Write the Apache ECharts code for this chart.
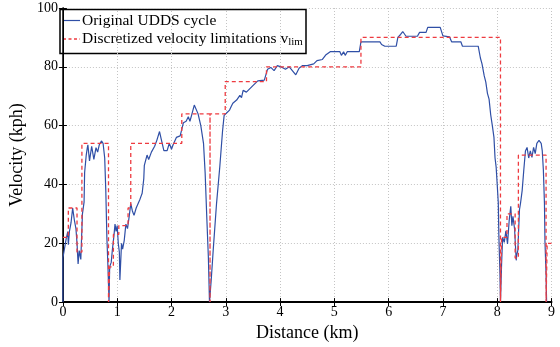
<!DOCTYPE html>
<html>
<head>
<meta charset="utf-8">
<script src="https://cdn.jsdelivr.net/npm/echarts@6/dist/echarts.min.js"></script>
<style>
  html, body { margin: 0; padding: 0; background: #fff; }
  #chart { width: 560px; height: 347px; }
</style>
</head>
<body>
<div id="chart"></div>
<script>
// UDDS cycle, speed against travelled distance
const uddsDist = [0, 0.0, 0.02, 0.06, 0.09, 0.1, 0.12, 0.15, 0.18, 0.21, 0.24, 0.26, 0.28, 0.3, 0.33, 0.36, 0.39, 0.4, 0.43, 0.45,
  0.46, 0.49, 0.53, 0.57, 0.61, 0.64, 0.67, 0.71, 0.74, 0.77, 0.79, 0.81, 0.83, 0.85, 0.86, 0.87, 0.89, 0.91, 0.94, 0.96,
  0.98, 1.0, 1.02, 1.04, 1.05, 1.08, 1.1, 1.13, 1.16, 1.19, 1.22, 1.25, 1.28, 1.31, 1.35, 1.38, 1.42, 1.46, 1.49, 1.5,
  1.55, 1.58, 1.63, 1.66, 1.69, 1.73, 1.78, 1.81, 1.86, 1.92, 1.96, 2.0, 2.03, 2.09, 2.16, 2.19, 2.22, 2.27, 2.31, 2.34,
  2.37, 2.42, 2.45, 2.49, 2.54, 2.59, 2.62, 2.65, 2.68, 2.7, 2.73, 2.77, 2.83, 2.89, 2.94, 2.97, 3.01, 3.07, 3.1, 3.13,
  3.2, 3.26, 3.29, 3.32, 3.38, 3.44, 3.5, 3.59, 3.71, 3.77, 3.83, 3.89, 3.95, 4.04, 4.1, 4.17, 4.29, 4.35, 4.41, 4.5,
  4.62, 4.68, 4.78, 4.84, 4.93, 5.1, 5.13, 5.17, 5.2, 5.24, 5.46, 5.49, 5.84, 5.87, 5.9, 5.93, 6.14, 6.17, 6.22, 6.26,
  6.29, 6.32, 6.53, 6.57, 6.69, 6.72, 6.95, 7.0, 7.12, 7.16, 7.33, 7.36, 7.65, 7.69, 7.72, 7.76, 7.79, 7.82, 7.85, 7.88,
  7.91, 7.94, 7.96, 7.98, 8.0, 8.02, 8.03, 8.05, 8.06, 8.08, 8.1, 8.13, 8.16, 8.19, 8.22, 8.25, 8.27, 8.29, 8.32, 8.35,
  8.36, 8.38, 8.41, 8.43, 8.46, 8.49, 8.52, 8.55, 8.58, 8.61, 8.64, 8.67, 8.7, 8.73, 8.77, 8.81, 8.83, 8.85, 8.87, 8.88,
  8.9, 8.91];
const uddsSpeed = [0, 15, 15, 21.5, 24, 19.5, 24, 27, 32, 28, 25, 20, 13, 17.5, 14.5, 30, 34, 44, 50, 52.5,
  53.5, 48, 53, 48.5, 52.5, 51, 53.5, 54.8, 54, 49, 38, 22, 12, 0, 11, 12.5, 13.5, 17.5, 22.5, 26.5,
  24, 26, 20, 17, 7.5, 20, 18, 21, 26.5, 25, 29, 33.5, 31, 29.5, 32, 31.5, 35, 37, 42, 46.5,
  50, 48.5, 51, 50.5, 53, 55, 58, 55.5, 51.5, 51.5, 54, 52, 53.5, 56, 56.5, 57, 61, 61.5, 63, 61.5,
  63.5, 67, 67.5, 64, 60, 54, 44, 29, 15, 0, 7, 18, 33.5, 46, 58, 63.5, 64.2, 65.3, 66.5, 67.6,
  68.7, 70.3, 69.5, 72, 71.4, 72.5, 73.6, 75.2, 75.5, 79.2, 79.8, 78.7, 80.4, 79.8, 79.2, 80, 77.3, 79.5, 80.4, 80.4,
  81, 82.1, 82.5, 84, 85.2, 85.2, 83.9, 85.1, 83.9, 85.2, 85.2, 88.5, 88.5, 87.6, 88, 87, 87, 90, 91, 92,
  91.5, 90.4, 90.4, 91.7, 91.7, 93.4, 93.4, 90.5, 90.2, 88.5, 88.5, 87, 87, 83, 81, 77, 74.8, 71, 69, 63.7,
  60, 56, 49, 46, 40, 33.7, 23, 10, 0, 12.6, 22, 20.3, 24.2, 19.8, 27.6, 32.6, 26, 29.2, 24.8, 14.2,
  16, 17.6, 31.4, 33.7, 38, 45, 51.4, 52.6, 49, 51.4, 49.2, 52.6, 50.5, 54, 55, 54, 51.4, 45, 33.7, 20.4,
  9.3, 0];

// discretized velocity limitations (step profile)
const limDist = [0, 0.1, 0.1, 0.26, 0.26, 0.35, 0.35, 0.84, 0.84, 0.86, 0.86, 0.93, 0.93, 1.03, 1.03, 1.2, 1.2, 1.25, 1.25, 2.19,
  2.19, 2.71, 2.71, 2.71, 2.99, 2.99, 3.75, 3.75, 5.49, 5.49, 8.06, 8.06, 8.08, 8.08, 8.18, 8.18, 8.33, 8.33, 8.39, 8.39,
  8.9, 8.9, 8.92, 8.92, 9];
const limSpeed = [22, 22, 32, 32, 17, 17, 54, 54, 0, 0, 12, 12, 23, 23, 26, 26, 32, 32, 54, 54,
  64, 64, 0, 64, 64, 75, 75, 80, 80, 90, 90, 0, 0, 22, 22, 30, 30, 15, 15, 50,
  50, 0, 0, 20, 20];

const xTicks = [0, 1, 2, 3, 4, 5, 6, 7, 8, 9];
const yTicks = [0, 20, 40, 60, 80, 100];

const zip = (a, b) => a.map((v, i) => [v, b[i]]);
const serif = 'Liberation Serif';
const blue = '#2f4fa6';
const red = '#ee3b40';

const chart = echarts.init(document.getElementById('chart'));
const option = {
  animation: false,
  backgroundColor: '#fff',
  grid: { left: 58, right: 8.5, top: 8, bottom: 39.5 },
  // legend box drawn by hand so the line samples and the subscript look right
  graphic: [
    {
      type: 'group', z: 100,
      children: [
        { type: 'rect', shape: { x: 60, y: 9.5, width: 246, height: 44 },
          style: { fill: '#fff', stroke: '#000', lineWidth: 1.5 } },
        { type: 'line', shape: { x1: 63, y1: 20.5, x2: 80, y2: 20.5 },
          style: { stroke: blue, lineWidth: 1.2 } },
        { type: 'text', x: 82, y: 20.5,
          style: { text: 'Original UDDS cycle', font: '15.5px ' + serif, fill: '#000', verticalAlign: 'middle' } },
        { type: 'line', shape: { x1: 63, y1: 39, x2: 80, y2: 39 },
          style: { stroke: red, lineWidth: 1.3, lineDash: [3, 2.5] } },
        { type: 'text', x: 82, y: 39,
          style: {
            text: '{a|Discretized velocity limitations v}{s|lim}',
            verticalAlign: 'middle',
            rich: {
              a: { font: '15.5px ' + serif, fill: '#000', lineHeight: 18 },
              s: { font: '11px ' + serif, fill: '#000', lineHeight: 18, verticalAlign: 'bottom', padding: [9, 0, 0, 0] }
            }
          } }
      ]
    }
  ],
  xAxis: [
    {
      type: 'value', min: xTicks[0], max: xTicks[xTicks.length - 1], interval: 1,
      name: 'Distance (km)', nameLocation: 'middle', nameGap: 14,
      nameTextStyle: { fontFamily: serif, fontSize: 18, color: '#000' },
      axisLine: { lineStyle: { color: '#000', width: 2 } },
      axisTick: { inside: true, length: 4, lineStyle: { color: '#000' } },
      axisLabel: { fontFamily: serif, fontSize: 14, color: '#000', margin: 3 },
      splitLine: { show: true, lineStyle: { color: '#c4c4c4', type: [1, 2], width: 1 } }
    },
    {
      type: 'value', position: 'top', min: 0, max: 9, interval: 1,
      axisLine: { lineStyle: { color: '#000', width: 1 } },
      axisTick: { inside: true, length: 4, lineStyle: { color: '#000' } },
      axisLabel: { show: false },
      splitLine: { show: false }
    }
  ],
  yAxis: [
    {
      type: 'value', min: yTicks[0], max: yTicks[yTicks.length - 1], interval: 20,
      name: 'Velocity (kph)', nameLocation: 'middle', nameRotate: 90, nameGap: 30,
      nameTextStyle: { fontFamily: serif, fontSize: 18, color: '#000' },
      axisLine: { show: true, lineStyle: { color: '#000', width: 1.5 } },
      axisTick: { show: true, inside: true, length: 4, lineStyle: { color: '#000' } },
      axisLabel: { fontFamily: serif, fontSize: 14, color: '#000', margin: 5 },
      splitLine: { show: true, lineStyle: { color: '#c4c4c4', type: [1, 2], width: 1 } }
    },
    {
      type: 'value', position: 'right', min: 0, max: 100, interval: 20,
      axisLine: { show: true, lineStyle: { color: '#000', width: 1 } },
      axisTick: { show: true, inside: true, length: 4, lineStyle: { color: '#000' } },
      axisLabel: { show: false },
      splitLine: { show: false }
    }
  ],
  series: [
    {
      name: 'Original UDDS cycle',
      type: 'line',
      symbol: 'none',
      data: zip(uddsDist, uddsSpeed),
      lineStyle: { color: blue, width: 1.2 }
    },
    {
      name: 'Discretized velocity limitations',
      type: 'line',
      symbol: 'none',
      data: zip(limDist, limSpeed),
      lineStyle: { color: red, width: 1.3, type: [4, 3] }
    }
  ]
};
chart.setOption(option);
</script>
</body>
</html>
